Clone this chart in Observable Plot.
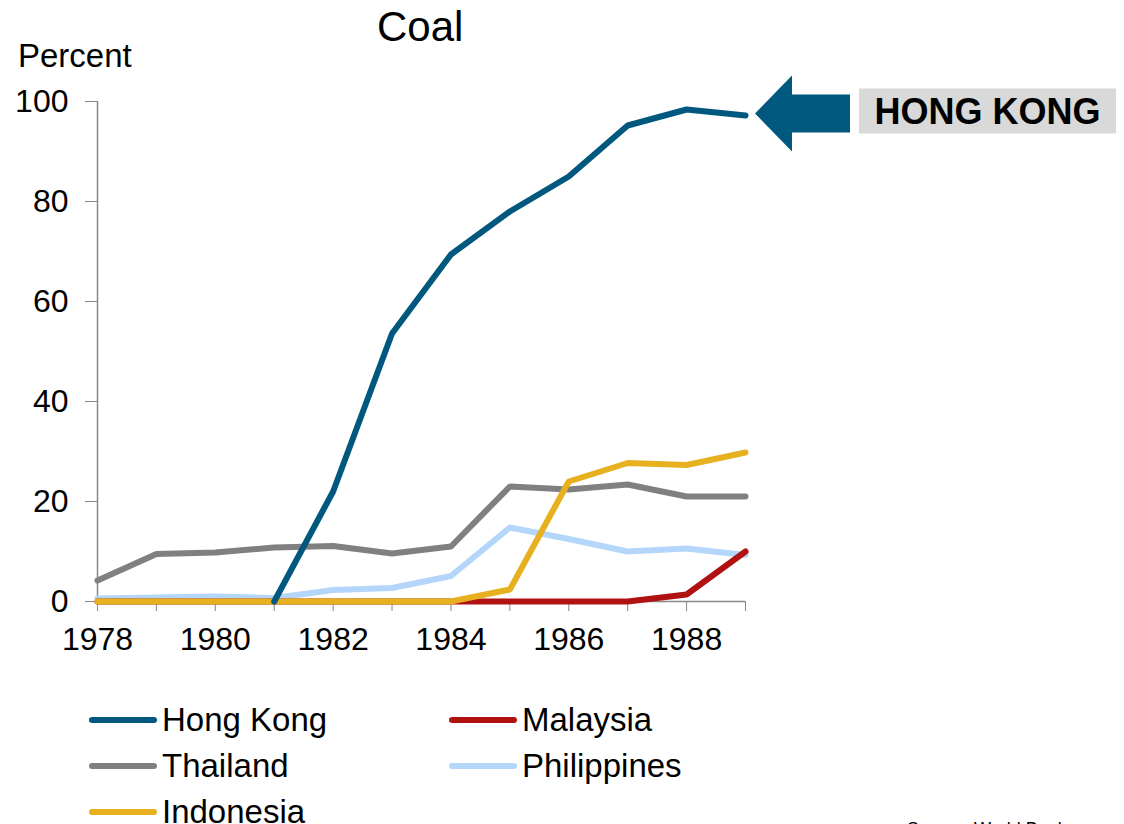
<!DOCTYPE html>
<html>
<head>
<meta charset="utf-8">
<script src="https://cdn.jsdelivr.net/npm/d3@7"></script>
<script src="https://cdn.jsdelivr.net/npm/@observablehq/plot@0.6"></script>
<style>
  html, body { margin: 0; padding: 0; background: #fff; }
  #wrap { position: relative; width: 1124px; height: 824px; overflow: hidden; font-family: "Liberation Sans", Arial, sans-serif; color: #000; }
  #chart { position: absolute; left: 0; top: 0; }
  .abs { position: absolute; line-height: 1; white-space: nowrap; }
  #title { left: 377px; top: 6px; font-size: 42px; }
  #ylabel { left: 18px; top: 39px; font-size: 33px; }
  #legend { position: absolute; left: 88px; top: 697px; display: grid; grid-template-columns: 360px 360px; grid-auto-rows: 46px; font-size: 33px; }
  .item { display: flex; align-items: center; }
  .item svg { margin-right: 4px; }
  #source { left: 907px; top: 820px; font-size: 18px; }
</style>
</head>
<body>
<div id="wrap">
  <div id="chart"></div>
  <div id="title" class="abs">Coal</div>
  <div id="ylabel" class="abs">Percent</div>
  <div id="legend"></div>
  <div id="source" class="abs">Source: World Bank</div>
</div>
<script>
// Share of coal in each economy's energy use, 1978–1989 (percent)
const years = [1978, 1979, 1980, 1981, 1982, 1983, 1984, 1985, 1986, 1987, 1988, 1989];
const hongKong    = [null, null, null, 0, 22, 53.6, 69.4, 78, 85, 95.2, 98.4, 97.2];
const malaysia    = [0, 0, 0, 0, 0, 0, 0, 0, 0, 0, 1.4, 10];
const thailand    = [4.2, 9.5, 9.8, 10.8, 11.1, 9.6, 11, 23, 22.4, 23.4, 21, 21];
const philippines = [0.6, 0.8, 1.0, 0.7, 2.3, 2.7, 5.1, 14.8, 12.5, 10, 10.6, 9.3];
const indonesia   = [0, 0, 0, 0, 0, 0, 0, 2.4, 24, 27.7, 27.3, 29.8];

const seriesNames  = ["Hong Kong", "Malaysia", "Thailand", "Philippines", "Indonesia"];
const seriesValues = [hongKong, malaysia, thailand, philippines, indonesia];
const seriesColors = ["#00587f", "#b01212", "#808080", "#b4d6fa", "#e6b01e"];
const drawOrder    = ["Thailand", "Philippines", "Malaysia", "Indonesia", "Hong Kong"];
const yTicks = [0, 20, 40, 60, 80, 100];
const calloutText = "HONG KONG";

const rows = seriesNames.flatMap((series, s) =>
  years.map((year, i) => ({series, year, value: seriesValues[s][i]}))
       .filter(d => d.value != null)
);

const hkLast = rows.filter(d => d.series === "Hong Kong").at(-1);

// Block arrow plus grey label box, anchored on the last Hong Kong point
function callout(index, scales) {
  const tx = scales.x(hkLast.year) + 10;
  const ty = scales.y(hkLast.value) - 1.5;
  const g = d3.create("svg:g");
  const pts = [
    [tx, ty], [tx + 37, ty - 38], [tx + 37, ty - 19], [tx + 95, ty - 19],
    [tx + 95, ty + 19], [tx + 37, ty + 19], [tx + 37, ty + 38]
  ];
  g.append("polygon").attr("points", pts.map(p => p.join(",")).join(" ")).attr("fill", seriesColors[0]);
  g.append("rect").attr("x", tx + 104).attr("y", ty - 25).attr("width", 257).attr("height", 45).attr("fill", "#d9d9d9");
  g.append("text").attr("x", tx + 104 + 128.5).attr("y", ty - 2.5).attr("dy", "0.35em")
    .attr("text-anchor", "middle").attr("font-weight", "bold").attr("font-size", 36).attr("fill", "#000")
    .text(calloutText);
  return g.node();
}

const chart = Plot.plot({
  width: 1124,
  height: 680,
  marginLeft: 97,
  marginRight: 379,
  marginTop: 101,
  marginBottom: 79,
  style: {fontFamily: "'Liberation Sans', Arial, sans-serif", fontSize: "32px", color: "#000", background: "transparent", overflow: "visible"},
  x: {domain: [1978, 1989]},
  y: {domain: [0, 100]},
  color: {domain: seriesNames, range: seriesColors},
  marks: [
    Plot.ruleX([1978], {stroke: "#888", strokeWidth: 1.5}),
    Plot.ruleY([0], {stroke: "#888", strokeWidth: 1.5}),
    Plot.axisY({ticks: yTicks, tickSize: 12, tickPadding: 17, stroke: "#888", fill: "#000", label: null}),
    Plot.axisX({ticks: years, tickSize: 10, tickPadding: 16, stroke: "#888", fill: "#000", label: null,
                tickFormat: d => d % 2 === 0 ? String(d) : ""}),
    ...drawOrder.map(name => Plot.line(rows.filter(d => d.series === name), {
      x: "year", y: "value", stroke: "series", strokeWidth: 6,
      strokeLinecap: "round", strokeLinejoin: "miter"
    })),
    callout
  ]
});
document.getElementById("chart").append(chart);

// Legend: short line swatches, two columns
const legend = d3.select("#legend");
seriesNames.forEach((name, i) => {
  const item = legend.append("div").attr("class", "item");
  const sw = item.append("svg").attr("width", 70).attr("height", 12);
  sw.append("line").attr("x1", 4).attr("x2", 66).attr("y1", 6).attr("y2", 6)
    .attr("stroke", seriesColors[i]).attr("stroke-width", 6).attr("stroke-linecap", "round");
  item.append("span").text(name);
});
</script>
</body>
</html>
